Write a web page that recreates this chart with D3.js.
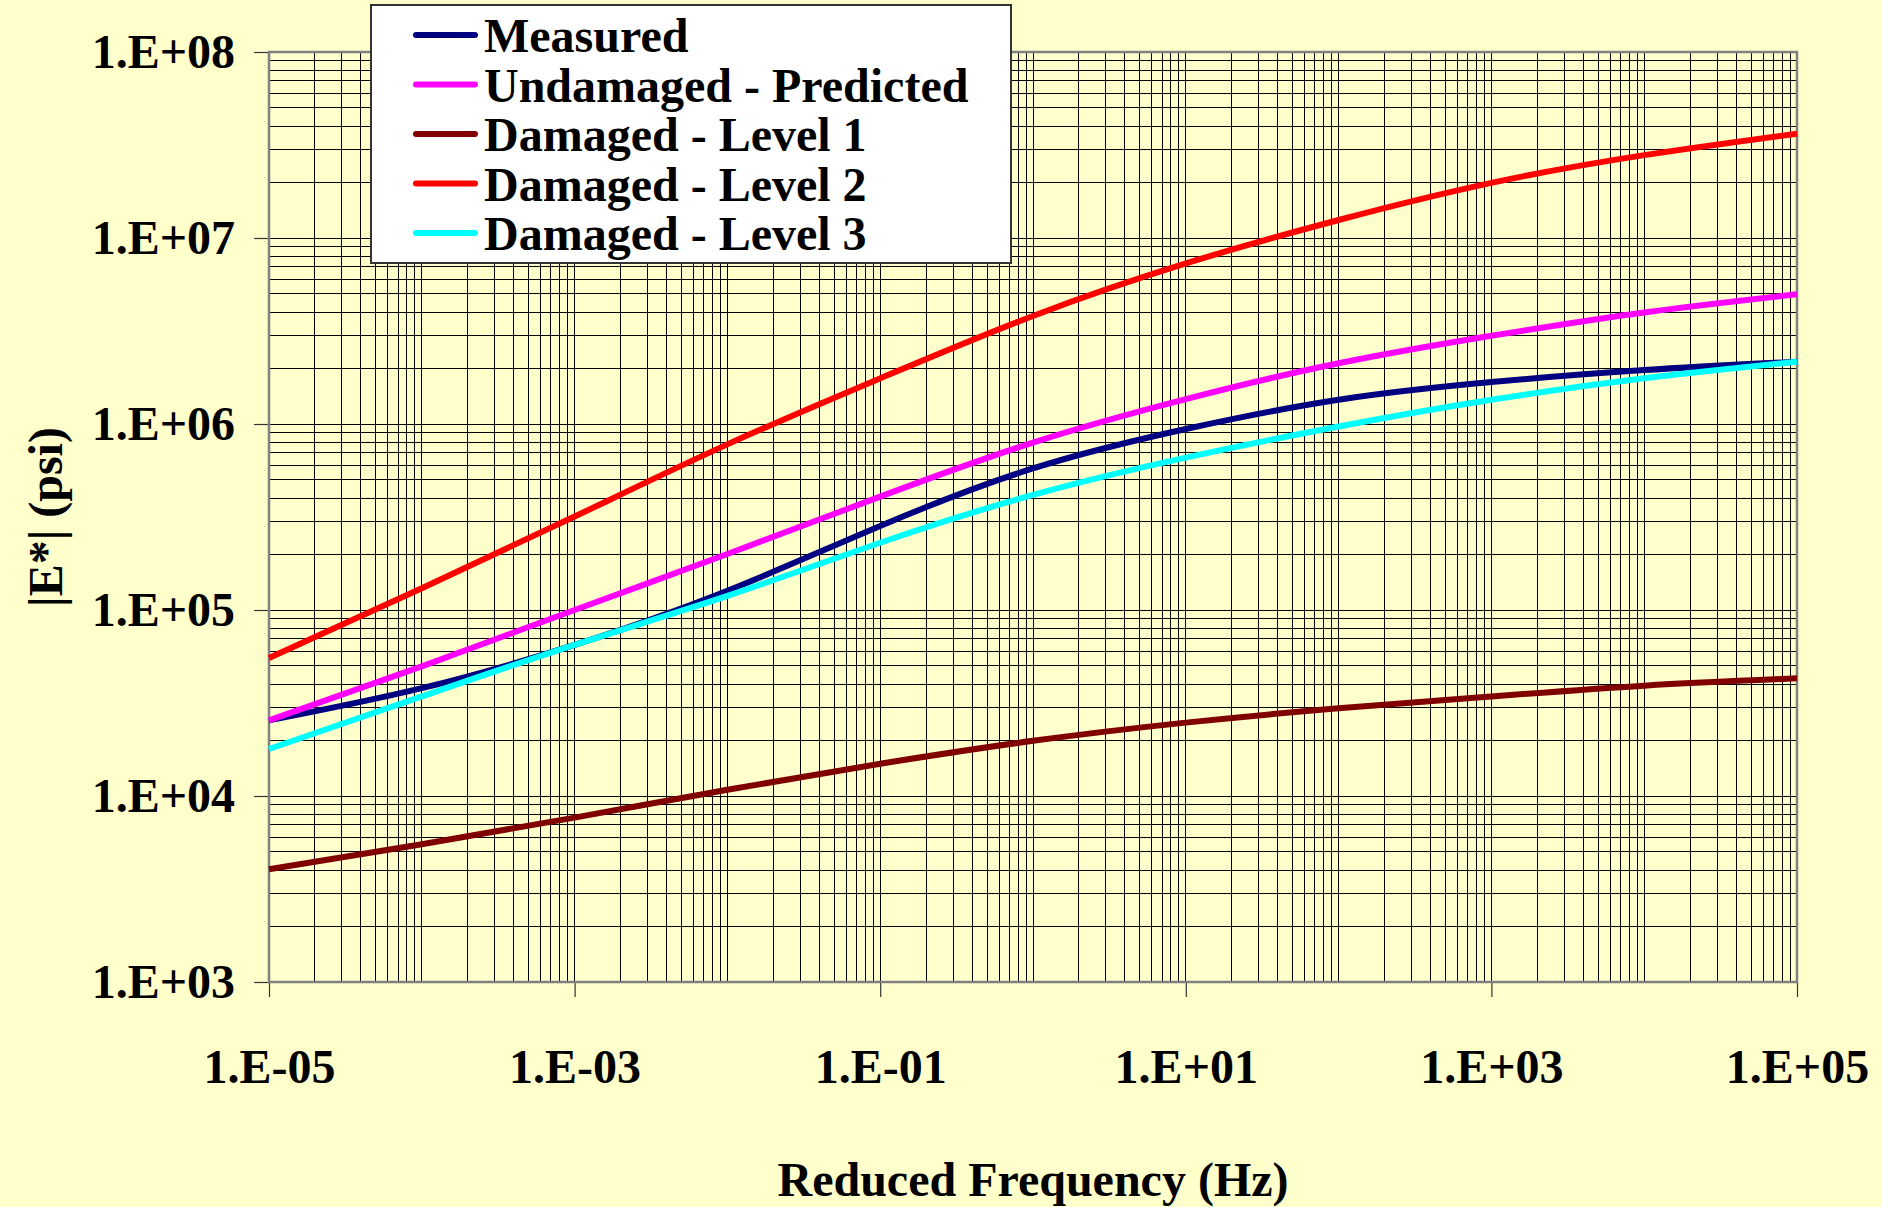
<!DOCTYPE html>
<html>
<head>
<meta charset="utf-8">
<script src="https://cdn.jsdelivr.net/npm/d3@7"></script>
<style>
  html, body { margin: 0; padding: 0; background: #FFFFCC; }
  svg { display: block; }
  text { font-family: "Liberation Serif", "Times New Roman", serif; font-weight: bold; fill: #000; }
</style>
</head>
<body>
<svg id="chart"></svg>
<script>
// reduced frequency (Hz), one point per decade
const freq = [1e-5, 1e-4, 1e-3, 1e-2, 1e-1, 1e0, 1e1, 1e2, 1e3, 1e4, 1e5];

// |E*| (psi)
const measured   = [2.55e4, 3.8e4, 6.5e4, 1.27e5, 2.83e5, 5.77e5, 9.4e5, 1.35e6, 1.68e6, 1.95e6, 2.16e6];
const undamaged  = [2.55e4, 4.98e4, 1.0e5, 2.0e5, 4.07e5, 7.94e5, 1.36e6, 2.12e6, 2.98e6, 3.98e6, 4.98e6];
const damaged1   = [4.04e3, 5.5e3, 7.65e3, 1.08e4, 1.49e4, 1.98e4, 2.48e4, 2.96e4, 3.43e4, 3.92e4, 4.29e4];
const damaged2   = [5.52e4, 1.31e5, 3.18e5, 7.77e5, 1.76e6, 3.81e6, 7.3e6, 1.25e7, 1.98e7, 2.79e7, 3.64e7];
const damaged3   = [1.79e4, 3.43e4, 6.5e4, 1.19e5, 2.3e5, 4.16e5, 6.6e5, 9.7e5, 1.35e6, 1.76e6, 2.16e6];

const seriesNames  = ["Measured", "Undamaged - Predicted", "Damaged - Level 1", "Damaged - Level 2", "Damaged - Level 3"];
const seriesValues = [measured, undamaged, damaged1, damaged2, damaged3];
const seriesColors = ["#000080", "#FF00FF", "#800000", "#FF0000", "#00FFFF"];

const xTickValues = [1e-5, 1e-3, 1e-1, 1e1, 1e3, 1e5];
const yTickValues = [1e3, 1e4, 1e5, 1e6, 1e7, 1e8];

const width = 1882, height = 1207;
const margin = {top: 52, right: 85, bottom: 225, left: 269};
const fontSize = 48;

const svg = d3.select("#chart")
  .attr("width", width)
  .attr("height", height);

svg.append("rect")
  .attr("width", width).attr("height", height)
  .attr("fill", "#FFFFCC");

const x = d3.scaleLog().domain([1e-5, 1e5]).range([margin.left, width - margin.right]);
const y = d3.scaleLog().domain([1e3, 1e8]).range([height - margin.bottom, margin.top]);

const expLabel = v => {
  const e = Math.round(Math.log10(v));
  return "1.E" + (e < 0 ? "-" : "+") + String(Math.abs(e)).padStart(2, "0");
};

// minor + major grid values (1..9 per decade)
const minorVals = (lo, hi) => {
  const out = [];
  for (let e = lo; e < hi; e++) {
    for (let m = 1; m <= 9; m++) out.push(m * Math.pow(10, e));
  }
  out.push(Math.pow(10, hi));
  return out;
};

const grid = svg.append("g").attr("class", "grid")
  .attr("stroke", "#000")
  .attr("stroke-width", 1)
  .attr("shape-rendering", "crispEdges");

grid.selectAll("line.v")
  .data(minorVals(-5, 5))
  .enter().append("line")
  .attr("class", "v")
  .attr("x1", d => x(d)).attr("x2", d => x(d))
  .attr("y1", y.range()[1]).attr("y2", y.range()[0]);

grid.selectAll("line.h")
  .data(minorVals(3, 8))
  .enter().append("line")
  .attr("class", "h")
  .attr("y1", d => y(d)).attr("y2", d => y(d))
  .attr("x1", x.range()[0]).attr("x2", x.range()[1]);

// axes
const xAxis = d3.axisBottom(x)
  .tickValues(xTickValues)
  .tickFormat(expLabel)
  .tickSize(15)
  .tickPadding(52);

const yAxis = d3.axisLeft(y)
  .tickValues(yTickValues)
  .tickFormat(expLabel)
  .tickSize(15)
  .tickPadding(19);

const gx = svg.append("g")
  .attr("transform", `translate(0,${height - margin.bottom})`)
  .call(xAxis);

const gy = svg.append("g")
  .attr("transform", `translate(${margin.left},0)`)
  .call(yAxis);

[gx, gy].forEach(g => {
  g.select(".domain").remove();
  g.selectAll(".tick line").attr("stroke", "#333").attr("stroke-width", 1.2);
  g.selectAll(".tick text")
    .attr("font-family", "Liberation Serif, Times New Roman, serif")
    .attr("font-weight", "bold")
    .attr("font-size", fontSize)
    .attr("fill", "#000");
});
gy.selectAll(".tick text").attr("dy", "0.33em");

// plot border
svg.append("rect")
  .attr("x", x.range()[0]).attr("y", y.range()[1])
  .attr("width", x.range()[1] - x.range()[0])
  .attr("height", y.range()[0] - y.range()[1])
  .attr("fill", "none")
  .attr("stroke", "#808080")
  .attr("stroke-width", 2.5);

// series
const line = d3.line()
  .curve(d3.curveNatural)
  .x(d => x(d[0]))
  .y(d => y(d[1]));

svg.append("g").selectAll("path")
  .data(seriesValues)
  .enter().append("path")
  .attr("d", vals => line(freq.map((f, i) => [f, vals[i]])))
  .attr("fill", "none")
  .attr("stroke", (d, i) => seriesColors[i])
  .attr("stroke-width", 6)
  .attr("stroke-linejoin", "round");

// legend
const legend = svg.append("g");
legend.append("rect")
  .attr("x", 371).attr("y", 5)
  .attr("width", 640).attr("height", 258)
  .attr("fill", "#fff")
  .attr("stroke", "#333")
  .attr("stroke-width", 2);

const rows = legend.selectAll("g.row")
  .data(seriesNames)
  .enter().append("g")
  .attr("class", "row")
  .attr("transform", (d, i) => `translate(0,${35 + i * 49.5})`);

rows.append("line")
  .attr("x1", 416).attr("x2", 475)
  .attr("stroke", (d, i) => seriesColors[i])
  .attr("stroke-width", 6)
  .attr("stroke-linecap", "round");

rows.append("text")
  .attr("x", 484).attr("y", 17)
  .attr("font-size", fontSize)
  .text(d => d);

// axis titles
svg.append("text")
  .attr("x", (x.range()[0] + x.range()[1]) / 2)
  .attr("y", 1196)
  .attr("text-anchor", "middle")
  .attr("font-size", fontSize)
  .text("Reduced Frequency (Hz)");

svg.append("text")
  .attr("transform", `translate(62,${(y.range()[0] + y.range()[1]) / 2}) rotate(-90)`)
  .attr("text-anchor", "middle")
  .attr("font-size", fontSize)
  .text("|E*| (psi)");
</script>
</body>
</html>
